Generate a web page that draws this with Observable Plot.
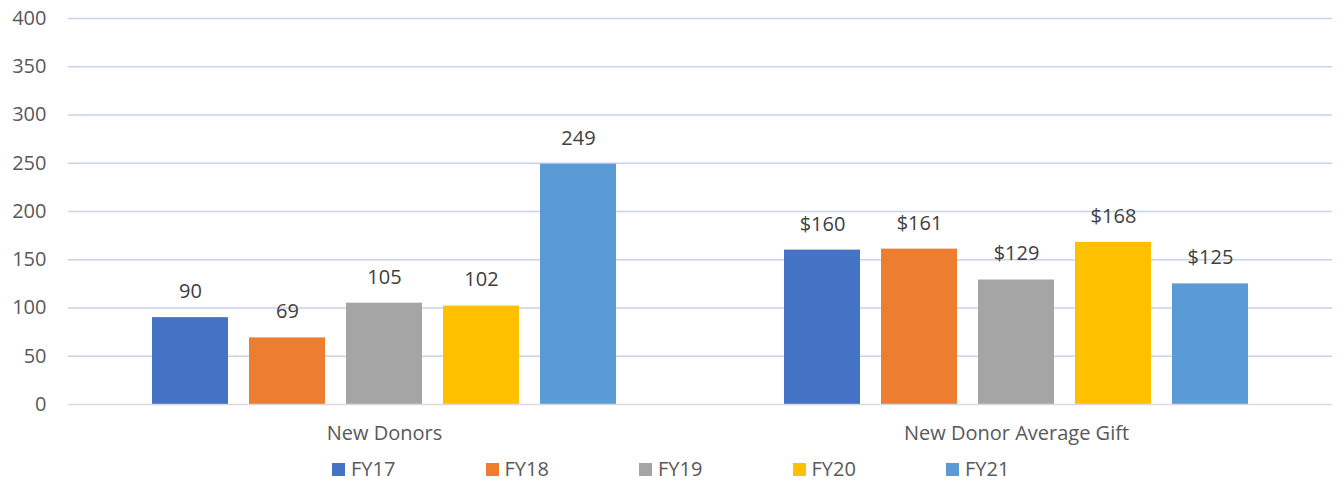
<!DOCTYPE html>
<html>
<head>
<meta charset="utf-8">
<script src="https://cdn.jsdelivr.net/npm/d3@7"></script>
<script src="https://cdn.jsdelivr.net/npm/@observablehq/plot@0.6"></script>
<style>
  html, body { margin: 0; padding: 0; background: #fff; }
  body { width: 1343px; height: 483px; overflow: hidden; font-family: "Open Sans", sans-serif; position: relative; }
  #legend { display: flex; position: absolute; left: 332px; top: 455px; font-size: 20px; line-height: 28px; color: #595959; }
  .item { display: flex; align-items: center; width: 153.5px; }
  .sw { width: 13px; height: 13px; margin-right: 6px; }
</style>
</head>
<body>
<div id="chart"></div>
<div id="legend"></div>
<script>
const categories = ["New Donors", "New Donor Average Gift"];
const years = ["FY17", "FY18", "FY19", "FY20", "FY21"];
const newDonors = [90, 69, 105, 102, 249];
const avgGift = [160, 161, 129, 168, 125];
const colors = ["#4472c4", "#ed7d31", "#a5a5a5", "#ffc000", "#5b9bd5"];
const yTicks = [0, 50, 100, 150, 200, 250, 300, 350, 400];

const data = [];
years.forEach((yr, i) => data.push({category: categories[0], year: yr, value: newDonors[i], label: String(newDonors[i])}));
years.forEach((yr, i) => data.push({category: categories[1], year: yr, value: avgGift[i], label: "$" + avgGift[i]}));

const chart = Plot.plot({
  width: 1343,
  height: 452,
  marginTop: 18,
  marginBottom: 48,
  marginLeft: 68,
  marginRight: 11,
  style: {fontFamily: "Open Sans, sans-serif", fontSize: "20px", color: "#595959", background: "#fff", overflow: "visible"},
  fx: {domain: categories, padding: 0, round: false, label: null},
  x: {domain: years, paddingInner: 0.2165, paddingOuter: 0.866, round: false, axis: null},
  y: {domain: [0, 400], ticks: yTicks, label: null},
  color: {domain: years, range: colors},
  marks: [
    Plot.gridY(yTicks.filter(d => d > 0), {stroke: "#c5d3ec", strokeOpacity: 1, strokeWidth: 1.3}),
    Plot.axisY({ticks: yTicks, tickSize: 0, tickPadding: 22, fontSize: 20, fill: "#595959", label: null}),
    Plot.axisFx({anchor: "bottom", tickSize: 0, tickPadding: 21, fontSize: 20, fill: "#595959", label: null}),
    Plot.barY(data, {fx: "category", x: "year", y: "value", fill: "year"}),
    Plot.ruleY([0], {stroke: "#d9d9d9", strokeWidth: 1.5}),
    Plot.text(data, {fx: "category", x: "year", y: "value", text: "label", dy: -26, lineAnchor: "middle", fontSize: 20, fill: "#404040"})
  ]
});
document.getElementById("chart").appendChild(chart);

const legend = document.getElementById("legend");
years.forEach((yr, i) => {
  const item = document.createElement("div");
  item.className = "item";
  const sw = document.createElement("div");
  sw.className = "sw";
  sw.style.background = colors[i];
  const t = document.createElement("span");
  t.textContent = yr;
  item.appendChild(sw);
  item.appendChild(t);
  legend.appendChild(item);
});
</script>
</body>
</html>
